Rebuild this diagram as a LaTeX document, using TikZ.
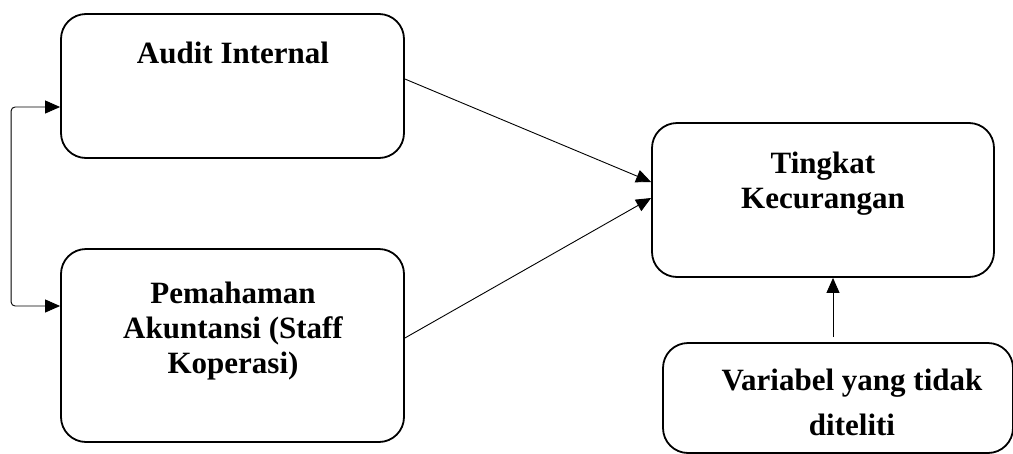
\documentclass[tikz,border=0pt]{standalone}
\usepackage{fontspec}
\setmainfont{Liberation Serif}
\usetikzlibrary{arrows.meta,calc}
\begin{document}
\begin{tikzpicture}[x=1pt,y=-1pt,
  box/.style={draw,line width=1.8pt,rounded corners=25pt,inner sep=0pt},
  lbl/.style={font=\fontsize{31}{35}\selectfont\bfseries,align=center,anchor=base,inner sep=0pt},
  arr/.style={line width=0.9pt,-{Triangle[length=15pt,width=13pt]}},
  barr/.style={line width=0.9pt,{Triangle[length=15pt,width=13pt]}-{Triangle[length=15pt,width=13pt]},rounded corners=4pt}]
\useasboundingbox (0,0) rectangle (1013,453);
\clip (0,0) rectangle (1013,453);
\node[box,minimum width=343pt,minimum height=144pt] (A) at (232.5,86) {};
\node[box,minimum width=343pt,minimum height=193pt] (B) at (232.5,345.5) {};
\node[box,minimum width=342pt,minimum height=154pt] (C) at (823,200) {};
\node[box,minimum width=350pt,minimum height=110pt] (D) at (838,398) {};
\node[lbl] (tA) at (233,63) {Audit Internal};
\node[lbl] (tB1) at (233,303) {Pemahaman};
\node[lbl] (tB2) at (233,338) {Akuntansi (Staff};
\node[lbl] (tB3) at (233,373) {Koperasi)};
\node[lbl] (tC1) at (823,173) {Tingkat};
\node[lbl] (tC2) at (823,208) {Kecurangan};
\node[lbl] (tD1) at (852,390) {Variabel yang tidak};
\node[lbl] (tD2) at (852,435) {diteliti};
\draw[arr] ($(A.east)+(0,-7)$) -- ($(C.west)+(0,-18)$);
\draw[arr] ($(B.east)+(0,-7.5)$) -- ($(C.west)+(0,-2)$);
\draw[arr] ($(D.north)+(-5,-5)$) -- ($(C.south)+(10,0)$);
\draw[barr] ($(B.west)+(0,-39.5)$) -| ($(A.west)+(-49,21)$) -- ($(A.west)+(0,21)$);
\end{tikzpicture}
\end{document}
